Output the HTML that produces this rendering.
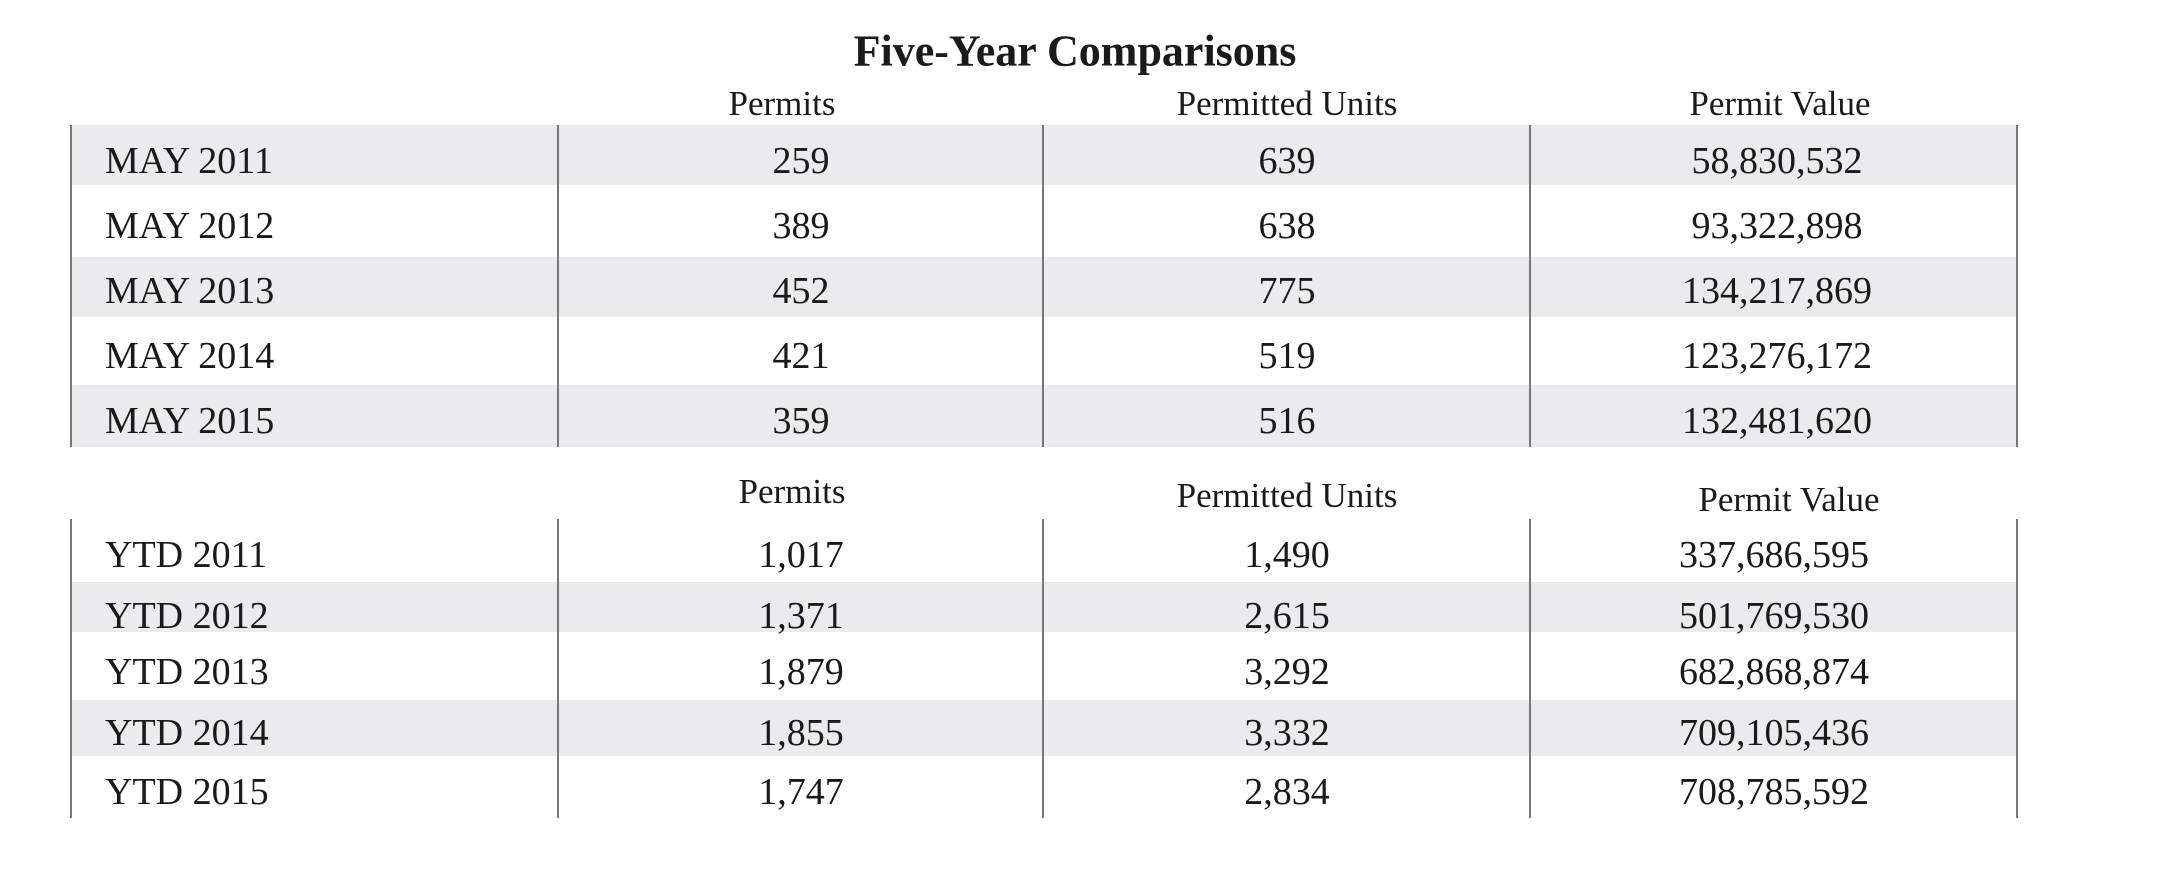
<!DOCTYPE html>
<html><head><style>
body{margin:0;width:2160px;height:880px;background:#fff;position:relative;overflow:hidden;font-family:"Liberation Serif",serif;color:#1a1a1a}
.t{position:absolute;transform:translate(-50%,-50%);white-space:nowrap}
.l{position:absolute;transform:translateY(-50%);white-space:nowrap;font-size:38px;left:105px}
.d{font-size:38px}
.h{font-size:35px}
.g{position:absolute;background:#ebebed}
.v{position:absolute;width:2px;background:#777}
</style></head><body>
<div class="t" style="left:1075px;top:51px;font-size:44px;font-weight:bold">Five-Year Comparisons</div>
<div class="t h" style="left:782px;top:104px">Permits</div>
<div class="t h" style="left:1287px;top:104px">Permitted Units</div>
<div class="t h" style="left:1780px;top:104px">Permit Value</div>
<div class="g" style="left:71px;top:125px;width:1945px;height:60px"></div>
<div class="g" style="left:71px;top:257px;width:1945px;height:60px"></div>
<div class="g" style="left:71px;top:385px;width:1945px;height:62px"></div>
<div class="v" style="left:70px;top:125px;height:322px"></div>
<div class="v" style="left:557px;top:125px;height:322px"></div>
<div class="v" style="left:1042px;top:125px;height:322px"></div>
<div class="v" style="left:1529px;top:125px;height:322px"></div>
<div class="v" style="left:2016px;top:125px;height:322px"></div>
<div class="l" style="top:161px">MAY 2011</div><div class="t d" style="left:801px;top:161px">259</div><div class="t d" style="left:1287px;top:161px">639</div><div class="t d" style="left:1777px;top:161px">58,830,532</div>
<div class="l" style="top:226px">MAY 2012</div><div class="t d" style="left:801px;top:226px">389</div><div class="t d" style="left:1287px;top:226px">638</div><div class="t d" style="left:1777px;top:226px">93,322,898</div>
<div class="l" style="top:291px">MAY 2013</div><div class="t d" style="left:801px;top:291px">452</div><div class="t d" style="left:1287px;top:291px">775</div><div class="t d" style="left:1777px;top:291px">134,217,869</div>
<div class="l" style="top:356px">MAY 2014</div><div class="t d" style="left:801px;top:356px">421</div><div class="t d" style="left:1287px;top:356px">519</div><div class="t d" style="left:1777px;top:356px">123,276,172</div>
<div class="l" style="top:421px">MAY 2015</div><div class="t d" style="left:801px;top:421px">359</div><div class="t d" style="left:1287px;top:421px">516</div><div class="t d" style="left:1777px;top:421px">132,481,620</div>

<div class="t h" style="left:792px;top:492px">Permits</div>
<div class="t h" style="left:1287px;top:496px">Permitted Units</div>
<div class="t h" style="left:1789px;top:500px">Permit Value</div>
<div class="g" style="left:71px;top:582px;width:1945px;height:50px"></div>
<div class="g" style="left:71px;top:700px;width:1945px;height:56px"></div>
<div class="v" style="left:70px;top:519px;height:299px"></div>
<div class="v" style="left:557px;top:519px;height:299px"></div>
<div class="v" style="left:1042px;top:519px;height:299px"></div>
<div class="v" style="left:1529px;top:519px;height:299px"></div>
<div class="v" style="left:2016px;top:519px;height:299px"></div>
<div class="l" style="top:555px">YTD 2011</div><div class="t d" style="left:801px;top:555px">1,017</div><div class="t d" style="left:1287px;top:555px">1,490</div><div class="t d" style="left:1774px;top:555px">337,686,595</div>
<div class="l" style="top:616px">YTD 2012</div><div class="t d" style="left:801px;top:616px">1,371</div><div class="t d" style="left:1287px;top:616px">2,615</div><div class="t d" style="left:1774px;top:616px">501,769,530</div>
<div class="l" style="top:672px">YTD 2013</div><div class="t d" style="left:801px;top:672px">1,879</div><div class="t d" style="left:1287px;top:672px">3,292</div><div class="t d" style="left:1774px;top:672px">682,868,874</div>
<div class="l" style="top:733px">YTD 2014</div><div class="t d" style="left:801px;top:733px">1,855</div><div class="t d" style="left:1287px;top:733px">3,332</div><div class="t d" style="left:1774px;top:733px">709,105,436</div>
<div class="l" style="top:792px">YTD 2015</div><div class="t d" style="left:801px;top:792px">1,747</div><div class="t d" style="left:1287px;top:792px">2,834</div><div class="t d" style="left:1774px;top:792px">708,785,592</div>
</body></html>
